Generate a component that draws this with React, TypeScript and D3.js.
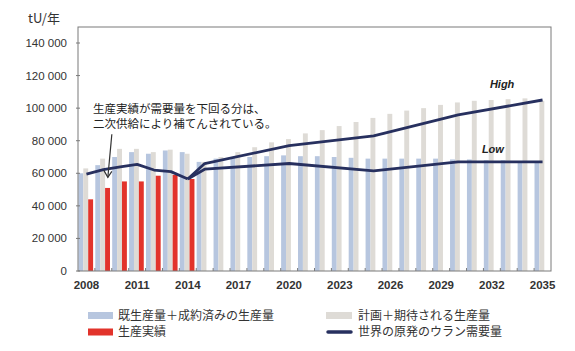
import * as d3 from "d3";

// 年
const years = [2008, 2009, 2010, 2011, 2012, 2013, 2014, 2015, 2016, 2017, 2018, 2019, 2020, 2021,
  2022, 2023, 2024, 2025, 2026, 2027, 2028, 2029, 2030, 2031, 2032, 2033, 2034, 2035];
const yTicks = [0, 20000, 40000, 60000, 80000, 100000, 120000, 140000];
const xLabelYears = [2008, 2011, 2014, 2017, 2020, 2023, 2026, 2029, 2032, 2035];

// 既生産量＋成約済みの生産量 (tU)
const existingCommitted = [60000, 65000, 70000, 73000, 72000, 74000, 73000, 67000, 69000, 70000,
  70000, 70500, 71000, 70500, 70500, 70000, 69500, 69000, 69000, 69000, 69000, 69000, 68500,
  68500, 68000, 68000, 67500, 67500];
// 計画＋期待される生産量 (tU)
const plannedProspective = [63000, 69000, 75000, 75000, 73000, 74500, 72000, 67000, 70000, 73000,
  76000, 79000, 81000, 84500, 86500, 89000, 91500, 94000, 96500, 98500, 100000, 102000, 103500,
  104500, 105000, 105500, 106000, 104500];
// 生産実績 (tU)
const actualYears = [2008, 2009, 2010, 2011, 2012, 2013, 2014];
const actualProduction = [44000, 51000, 55000, 55000, 58500, 59000, 56500];
// 世界の原発のウラン需要量 (tU)
const demandYears = [2008, 2009, 2010, 2011, 2012, 2013, 2014];
const demandActual = [59500, 62300, 64000, 65500, 62000, 61000, 56500];
const scenarioYears = [2014, 2015, 2020, 2025, 2030, 2035];
const demandHigh = [56500, 66000, 77000, 83000, 95800, 105000];
const demandLow = [56500, 62500, 66000, 61500, 67000, 67000];

const W = 575;
const H = 351;
const left = 78, right = 551, top = 27, bottom = 271;

const BLUE = "#b7c6df";
const GRAY = "#dedbd6";
const RED = "#e2332b";
const NAVY = "#27305f";
const numFont = "'Liberation Sans Narrow', 'Liberation Sans', Arial, sans-serif";
const jpFont = "'Noto Sans CJK JP', 'Noto Sans', sans-serif";

export default function App() {
  const x = d3.scaleBand<number>().domain(years).range([left, right]).padding(0);
  const y = d3.scaleLinear().domain([0, 140000]).range([bottom, top + 16]);
  const bw = x.bandwidth() * 0.29;
  const off = 0.4;
  const cx = (yr: number) => (x(yr) as number) + x.bandwidth() / 2;

  const line = d3.line<[number, number]>().x(d => cx(d[0])).y(d => y(d[1]));
  const actualLine = line(demandYears.map((yr, i) => [yr, demandActual[i]]));
  const highLine = line(scenarioYears.map((yr, i) => [yr, demandHigh[i]]));
  const lowLine = line(scenarioYears.map((yr, i) => [yr, demandLow[i]]));
  const fmt = (v: number) => d3.format(",")(v).replace(/,/g, " ");

  // 注釈の矢印
  const ax1 = cx(2009) + 8.5, ay1 = y(84000);
  const ax2 = cx(2009) + 4.5, ay2 = y(57500);

  return (
    <svg width={W} height={H} style={{ position: "absolute", left: 0, top: 0, background: "#fff" }}>
      <text x={28} y={23} fontFamily={jpFont} fontSize={13} fill="#333">tU/年</text>

      {/* bars */}
      {years.map((yr, i) => (
        <g key={yr}>
          <rect x={(x(yr) as number) + off} y={y(existingCommitted[i])} width={bw}
            height={y(0) - y(existingCommitted[i])} fill={BLUE} />
          <rect x={(x(yr) as number) + off + bw} y={y(plannedProspective[i])} width={bw}
            height={y(0) - y(plannedProspective[i])} fill={GRAY} />
        </g>
      ))}
      {actualYears.map((yr, i) => (
        <rect key={yr} x={(x(yr) as number) + off + 2 * bw} y={y(actualProduction[i])} width={bw}
          height={y(0) - y(actualProduction[i])} fill={RED} />
      ))}

      {/* demand lines */}
      <path d={actualLine || ""} fill="none" stroke={NAVY} strokeWidth={2.8} strokeLinejoin="round" />
      <path d={highLine || ""} fill="none" stroke={NAVY} strokeWidth={2.8} strokeLinejoin="round" />
      <path d={lowLine || ""} fill="none" stroke={NAVY} strokeWidth={2.8} strokeLinejoin="round" />

      {/* frame */}
      <rect x={left} y={top} width={right - left} height={bottom - top} fill="none" stroke="#7a7a7a" strokeWidth={1} />
      {yTicks.map(t => (
        <g key={t}>
          <line x1={left - 2} x2={left + 2} y1={y(t)} y2={y(t)} stroke="#7a7a7a" />
          <text x={67} y={y(t)} dy="0.35em" textAnchor="end" fontFamily={numFont} fontSize={11.5} fill="#333">
            {fmt(t)}
          </text>
        </g>
      ))}
      {years.slice(1).map(yr => (
        <line key={yr} x1={x(yr)} x2={x(yr)} y1={bottom} y2={bottom - 3} stroke="#7a7a7a" />
      ))}
      {xLabelYears.map(yr => (
        <text key={yr} x={cx(yr)} y={289} textAnchor="middle" fontFamily={numFont} fontSize={11.5}
          fontWeight="bold" fill="#333">{yr}</text>
      ))}

      {/* annotation */}
      <text x={93} y={113} fontFamily={jpFont} fontSize={11.5} fill="#222">生産実績が需要量を下回る分は、</text>
      <text x={93} y={127.5} fontFamily={jpFont} fontSize={11.5} fill="#222">二次供給により補てんされている。</text>
      <line x1={ax1} y1={ay1} x2={ax2} y2={ay2} stroke="#333" strokeWidth={1.2} />
      <path d={`M${ax2 - 4},${ay2 - 7} L${ax2},${ay2} L${ax2 + 4},${ay2 - 6}`} fill="none" stroke="#333" strokeWidth={1.2} />

      <text x={cx(2032) - 2} y={y(112500)} fontFamily={numFont} fontSize={11} fontStyle="italic" fontWeight="bold" fill="#222">High</text>
      <text x={cx(2032) - 10} y={y(72500)} fontFamily={numFont} fontSize={11} fontStyle="italic" fontWeight="bold" fill="#222">Low</text>

      {/* legend */}
      <rect x={88} y={312} width={25} height={7} fill={BLUE} />
      <text x={118} y={319.5} fontFamily={jpFont} fontSize={12} fill="#333">既生産量＋成約済みの生産量</text>
      <rect x={88} y={328.5} width={25} height={7} fill={RED} />
      <text x={118} y={336} fontFamily={jpFont} fontSize={12} fill="#333">生産実績</text>
      <rect x={326} y={312} width={26} height={7} fill={GRAY} />
      <text x={358} y={319.5} fontFamily={jpFont} fontSize={12} fill="#333">計画＋期待される生産量</text>
      <line x1={328} x2={351} y1={332} y2={332} stroke={NAVY} strokeWidth={3.5} strokeLinecap="round" />
      <text x={358} y={336} fontFamily={jpFont} fontSize={12} fill="#333">世界の原発のウラン需要量</text>
    </svg>
  );
}
